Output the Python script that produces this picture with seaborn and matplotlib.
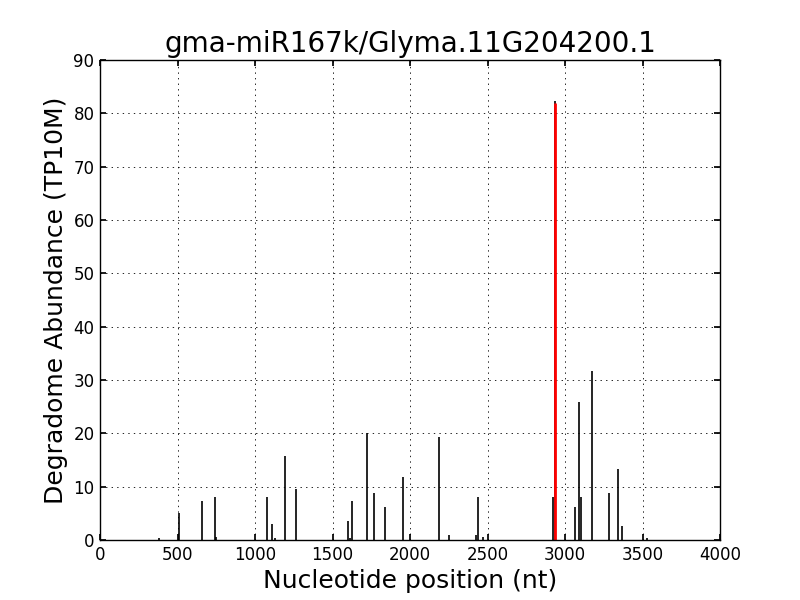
import matplotlib
matplotlib.use("Agg")
import matplotlib.pyplot as plt
import seaborn as sns

# Degradome peaks
positions = [383, 510, 660, 744, 750, 1080, 1112, 1131, 1196, 1267,
             1602, 1615, 1628, 1725, 1770, 1841, 1957, 2185, 2254, 2428,
             2441, 2473, 2925, 2935, 3066, 3092, 3105, 3172, 3286, 3344,
             3370, 3531]
abundance = [0.3, 5.0, 7.3, 8.0, 0.5, 8.0, 3.0, 0.3, 15.7, 9.5,
             3.5, 0.3, 7.3, 20.0, 8.8, 6.1, 11.9, 19.3, 1.0, 1.0,
             8.0, 0.6, 8.0, 82.4, 6.1, 25.8, 8.0, 31.6, 8.8, 13.4,
             2.6, 0.3]
# cleavage site of the miRNA target
site_pos = [2935]
site_abund = [81.9]

sns.set_theme(style="white", rc={
    "axes.edgecolor": "black",
    "axes.linewidth": 1.0,
    "text.color": "black",
    "axes.labelcolor": "black",
    "grid.color": "black",
    "grid.linewidth": 0.6,
    "lines.scale_dashes": False,
    "xtick.direction": "in",
    "ytick.direction": "in",
    "xtick.top": True,
    "ytick.right": True,
    "xtick.bottom": True,
    "ytick.left": True,
    "xtick.major.size": 4,
    "ytick.major.size": 4,
    "xtick.color": "black",
    "ytick.color": "black",
})
plt.rcParams['font.family'] = ['DejaVu Sans']

fig, ax = plt.subplots(figsize=(8, 6), dpi=100)
fig.subplots_adjust(left=0.125, right=0.9, bottom=0.1, top=0.9)

ax.vlines(positions, 0, abundance, colors="black", linewidth=1.2)
ax.vlines(site_pos, 0, site_abund, colors="red", linewidth=2)

ax.set_xlim(0, 4000)
ax.set_ylim(0, 90)
ax.set_xticks(range(0, 4001, 500))
ax.set_yticks(range(0, 91, 10))
ax.tick_params(labelsize=12, pad=4)
ax.grid(True, linestyle=(0, (1, 3)))
ax.set_axisbelow(True)

ax.set_title("gma-miR167k/Glyma.11G204200.1", fontsize=20)
ax.set_xlabel("Nucleotide position (nt)", fontsize=18)
ax.set_ylabel("Degradome Abundance (TP10M)", fontsize=18)

fig.savefig("out.png", dpi=100)
